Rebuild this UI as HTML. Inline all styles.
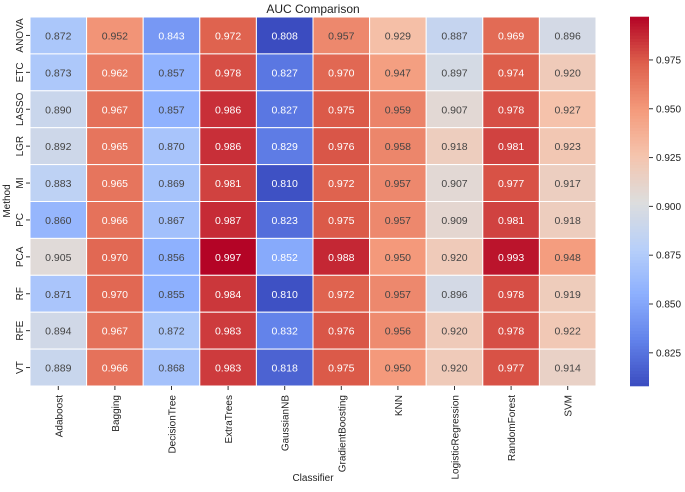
<!DOCTYPE html>
<html><head><meta charset="utf-8"><style>
body{margin:0;background:#fff;font-family:"Liberation Sans","DejaVu Sans",sans-serif;}
svg text{font-family:"Liberation Sans","DejaVu Sans",sans-serif;}
</style></head><body>
<svg id="c" width="685" height="487"></svg>
<script>
const methods=["ANOVA","ETC","LASSO","LGR","MI","PC","PCA","RF","RFE","VT"];
const classifiers=["Adaboost","Bagging","DecisionTree","ExtraTrees","GaussianNB","GradientBoosting","KNN","LogisticRegression","RandomForest","SVM"];
const rowANOVA=[0.872,0.952,0.843,0.972,0.808,0.957,0.929,0.887,0.969,0.896];
const rowETC=[0.873,0.962,0.857,0.978,0.827,0.970,0.947,0.897,0.974,0.920];
const rowLASSO=[0.890,0.967,0.857,0.986,0.827,0.975,0.959,0.907,0.978,0.927];
const rowLGR=[0.892,0.965,0.870,0.986,0.829,0.976,0.958,0.918,0.981,0.923];
const rowMI=[0.883,0.965,0.869,0.981,0.810,0.972,0.957,0.907,0.977,0.917];
const rowPC=[0.860,0.966,0.867,0.987,0.823,0.975,0.957,0.909,0.981,0.918];
const rowPCA=[0.905,0.970,0.856,0.997,0.852,0.988,0.950,0.920,0.993,0.948];
const rowRF=[0.871,0.970,0.855,0.984,0.810,0.972,0.957,0.896,0.978,0.919];
const rowRFE=[0.894,0.967,0.872,0.983,0.832,0.976,0.956,0.920,0.978,0.922];
const rowVT=[0.889,0.966,0.868,0.983,0.818,0.975,0.950,0.920,0.977,0.914];
const values=[rowANOVA,rowETC,rowLASSO,rowLGR,rowMI,rowPC,rowPCA,rowRF,rowRFE,rowVT];
const cbTicks=[0.825,0.850,0.875,0.900,0.925,0.950,0.975];

const NS="http://www.w3.org/2000/svg";
const svg=document.getElementById('c');
function el(t,a,txt){const e=document.createElementNS(NS,t);for(const k in a)e.setAttribute(k,a[k]);if(txt!==undefined)e.textContent=txt;svg.appendChild(e);return e;}
const X0=30,X1=596,Y0=17,Y1=386;
const cw=(X1-X0)/classifiers.length, rh=(Y1-Y0)/methods.length;
const all=values.flat();const vmin=Math.min(...all),vmax=Math.max(...all);
const stops=[[59,76,192],[98,130,234],[141,176,254],[184,208,249],[221,221,221],[245,196,173],[244,154,123],[222,96,76],[180,4,38]];
function cmap(v){let t=(v-vmin)/(vmax-vmin);t=Math.max(0,Math.min(1,t));const p=t*8,i=Math.min(7,Math.floor(p)),f=p-i;
return stops[i].map((c,k)=>Math.round(c+(stops[i+1][k]-c)*f));}
function isDark(v){const t=(v-vmin)/(vmax-vmin);return t>0.81||t<0.24;}
const xS=i=>X0+i*cw, yS=j=>Y0+j*rh;
const cbX=630,cbW=19;
const cbY=v=>Y1-(v-vmin)/(vmax-vmin)*(Y1-Y0);

el('text',{x:313,y:13,'text-anchor':'middle','font-size':12,fill:'#222'},'AUC Comparison');

values.forEach((row,j)=>{
  row.forEach((v,i)=>{
    const c=cmap(v);
    const r=el('rect',{x:xS(i),y:yS(j),width:cw,height:rh,fill:`rgb(${c})`,stroke:'#fff','stroke-width':1});
    
    
    const t=el('text',{x:xS(i)+cw/2,y:yS(j)+rh/2+4,'text-anchor':'middle','font-size':10.5,fill:isDark(v)?'#fff':'#444'},v.toFixed(3));
    
    
  });
});
methods.forEach((m,j)=>{
  const y=yS(j)+rh/2;
  el('line',{x1:X0-4,x2:X0,y1:y,y2:y,stroke:'#333'});
  const t=el('text',{x:23,y:y,'text-anchor':'middle','font-size':10,fill:'#222',transform:`rotate(-90 23 ${y})`},m);
  
  
});
classifiers.forEach((c,i)=>{
  const x=xS(i)+cw/2;
  el('line',{x1:x,x2:x,y1:Y1,y2:Y1+4,stroke:'#333'});
  const t=el('text',{x:x+4,y:Y1+9,'text-anchor':'end','font-size':10,fill:'#222',transform:`rotate(-90 ${x+4} ${Y1+9})`},c);
  
  
});
el('text',{x:313,y:481,'text-anchor':'middle','font-size':10,fill:'#222'},'Classifier');
el('text',{x:10,y:201,'text-anchor':'middle','font-size':10,fill:'#222',transform:'rotate(-90 10 201)'},'Method');

const N=120;
for(let k=0;k<N;k++){const v0=vmin+(vmax-vmin)*k/N,v1=vmin+(vmax-vmin)*(k+1)/N;const c=cmap((v0+v1)/2);
  const r=el('rect',{x:cbX,y:cbY(v1)-0.3,width:cbW,height:cbY(v0)-cbY(v1)+0.6,fill:`rgb(${c})`});
  }
cbTicks.forEach(v=>{const y=cbY(v);
  el('line',{x1:cbX+cbW,x2:cbX+cbW+4,y1:y,y2:y,stroke:'#333'});
  const t=el('text',{x:cbX+cbW+7,y:y+3.5,'font-size':10,fill:'#222'},v.toFixed(3));
  
  });
</script>
</body></html>
